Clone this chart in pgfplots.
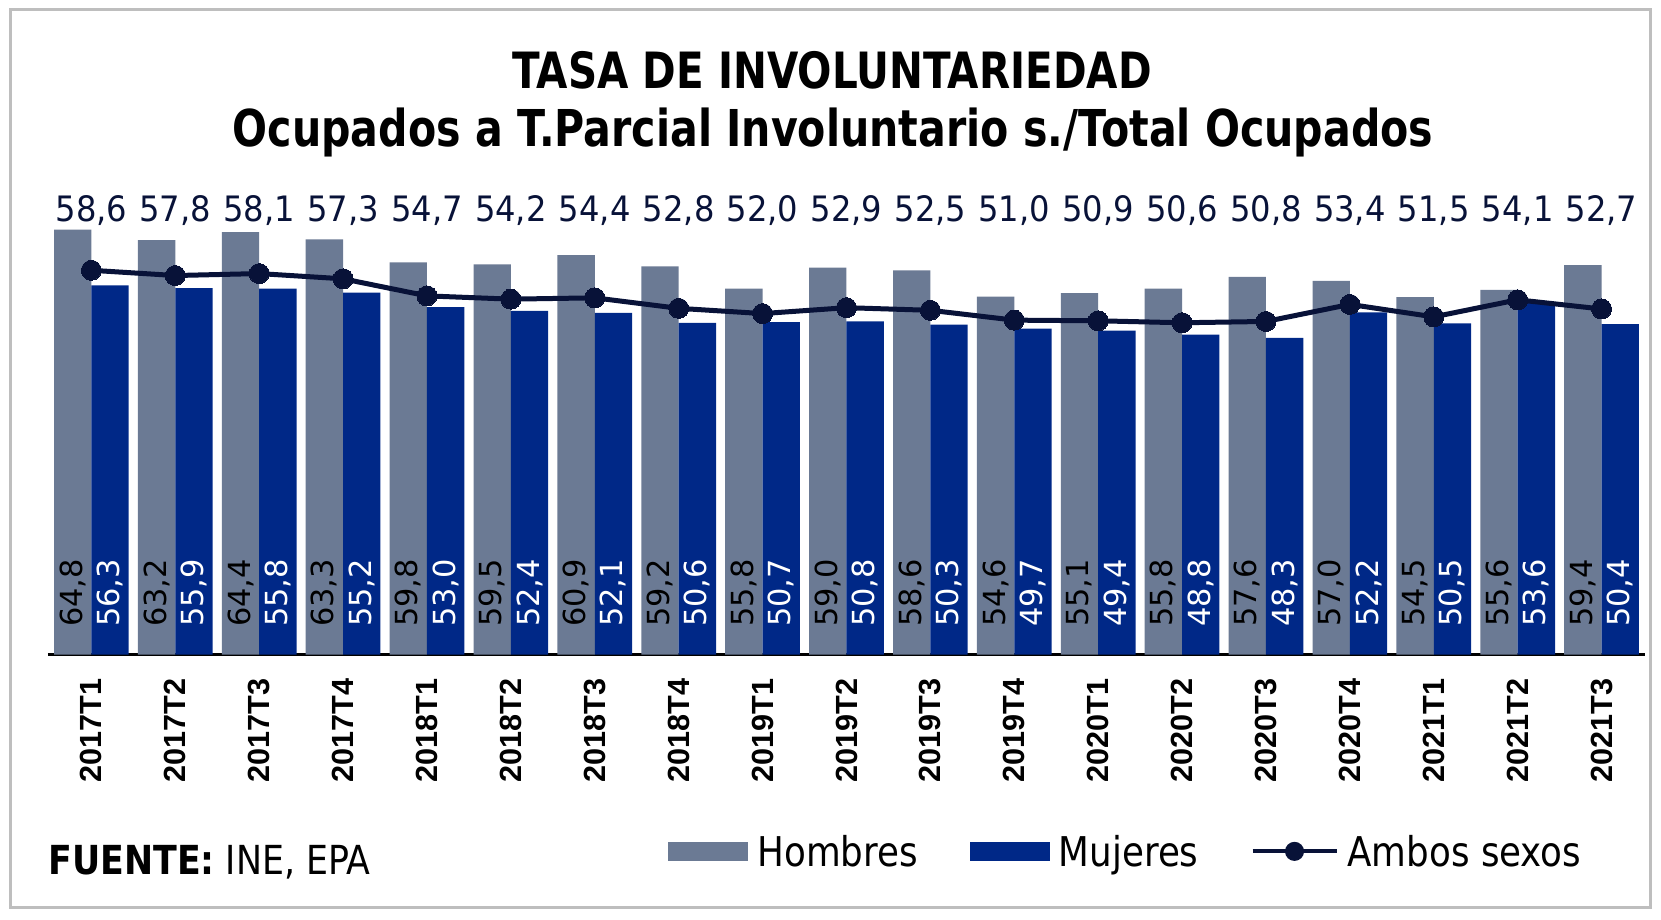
\documentclass[border=0pt]{standalone}
\usepackage{graphicx}
\usepackage{pgfplots}
\usepackage{pgfplotstable}
\pgfplotsset{compat=1.18}
\usepackage{fontspec}
\setmainfont{DejaVu Sans}
\newfontfamily\titlefont{DejaVu Sans}[FakeStretch=0.81]
\newfontfamily\legfont{DejaVu Sans}[FakeStretch=0.87]
\newfontfamily\topfont{DejaVu Sans}[FakeStretch=0.92]
\newfontfamily\tickfont{Liberation Sans}

\definecolor{hombres}{RGB}{107,122,148}
\definecolor{mujeres}{RGB}{0,40,135}
\definecolor{ambos}{RGB}{8,18,56}
\definecolor{marco}{RGB}{190,190,190}

% tasa de involuntariedad por trimestre
\pgfplotstableread{
x  hombres mujeres ambos
0  64.8 56.3 58.6
1  63.2 55.9 57.8
2  64.4 55.8 58.1
3  63.3 55.2 57.3
4  59.8 53.0 54.7
5  59.5 52.4 54.2
6  60.9 52.1 54.4
7  59.2 50.6 52.8
8  55.8 50.7 52.0
9  59.0 50.8 52.9
10 58.6 50.3 52.5
11 54.6 49.7 51.0
12 55.1 49.4 50.9
13 55.8 48.8 50.6
14 57.6 48.3 50.8
15 57.0 52.2 53.4
16 54.5 50.5 51.5
17 55.6 53.6 54.1
18 59.4 50.4 52.7
}\datos

\newcommand{\valor}{\pgfmathprintnumber[fixed,fixed zerofill,precision=1,use comma,assume math mode=true]{\pgfplotspointmeta}}

\begin{document}
\begin{tikzpicture}
\path[use as bounding box] (0,0) rectangle (830.5pt,460pt);
\draw[marco, line width=1.5pt] (5.2pt,6pt) rectangle (825pt,455pt);

\node[anchor=base, inner sep=0pt, font=\titlefont\bfseries\fontsize{25}{30}\selectfont] at (416pt,415.8pt) {TASA DE INVOLUNTARIEDAD};
\node[anchor=base, inner sep=0pt, font=\titlefont\bfseries\fontsize{25.4}{30}\selectfont] at (416.5pt,386.7pt) {Ocupados a T.Parcial Involuntario s./Total Ocupados};
\node[anchor=base west, inner sep=0pt, font=\legfont\fontsize{20}{24}\selectfont] at (24pt,22.5pt) {\textbf{FUENTE:} INE, EPA};

\begin{axis}[
  at={(24pt,132.65pt)}, anchor=south west,
  scale only axis, width=798.6pt, height=229.6pt,
  xmin=-0.517, xmax=18.52, ymin=0, ymax=70,
  enlargelimits=false, clip=false,
  axis y line=none, axis x line*=bottom,
  x axis line style={-, line width=1.4pt, black},
  ytick=\empty,
  xtick={0,...,18},
  xticklabels={2017T1,2017T2,2017T3,2017T4,2018T1,2018T2,2018T3,2018T4,2019T1,2019T2,2019T3,2019T4,2020T1,2020T2,2020T3,2020T4,2021T1,2021T2,2021T3},
  xtick style={draw=none},
  xticklabel style={font=\tickfont\bfseries\fontsize{15.3}{18}\selectfont, yshift=-11.7pt, rotate=90, anchor=east, inner sep=0pt},
  legend columns=3,
  legend style={at={(0.3882,-0.4305)}, anchor=west, draw=none, fill=none, inner sep=0pt,
    font=\legfont\fontsize{20.5}{24}\selectfont, nodes={inner sep=0pt},
    /tikz/every odd column/.append style={column sep=4.5pt},
    /tikz/every even column/.append style={column sep=26pt}},
]
\addplot[ybar, bar width=0.445, bar shift=-0.2225, fill=hombres, draw=none,
  point meta=y, visualization depends on=y \as \rawy,
  nodes near coords={\rotatebox{90}{\valor}},
  every node near coord/.append style={shift={(axis direction cs:-0.2225,-\rawy)}, yshift=13.8pt, anchor=south, inner sep=0pt, font=\fontsize{15.2}{18}\selectfont, text=black},
  legend image code/.code={\fill[hombres] (0pt,-4.25pt) rectangle (40pt,5.25pt);}]
  table[x=x, y=hombres] {\datos};
\addlegendentry{Hombres}
\addplot[ybar, bar width=0.445, bar shift=0.2225, fill=mujeres, draw=none,
  point meta=y, visualization depends on=y \as \rawy,
  nodes near coords={\rotatebox{90}{\valor}},
  every node near coord/.append style={shift={(axis direction cs:0.2225,-\rawy)}, yshift=13.8pt, anchor=south, inner sep=0pt, font=\fontsize{15.2}{18}\selectfont, text=white},
  legend image code/.code={\fill[mujeres] (0pt,-4.25pt) rectangle (40pt,5.25pt);}]
  table[x=x, y=mujeres] {\datos};
\addlegendentry{Mujeres}
\addplot[ambos, line width=2.5pt, mark=*, mark size=5pt,
  mark options={fill=ambos, draw=ambos, line width=0pt},
  point meta=y, visualization depends on=y \as \rawy,
  nodes near coords=\valor,
  every node near coord/.append style={shift={(axis direction cs:0,-\rawy)}, yshift=216.5pt, anchor=base, inner sep=0pt, font=\topfont\fontsize{17.5}{20}\selectfont, text=ambos},
  legend image code/.code={\draw[ambos, line width=2pt] (0pt,0.5pt) -- (42pt,0.5pt); \fill[ambos] (21pt,0.5pt) circle (3.5pt);}]
  table[x=x, y=ambos] {\datos};
\addlegendentry{Ambos sexos}
\end{axis}
\end{tikzpicture}
\end{document}
